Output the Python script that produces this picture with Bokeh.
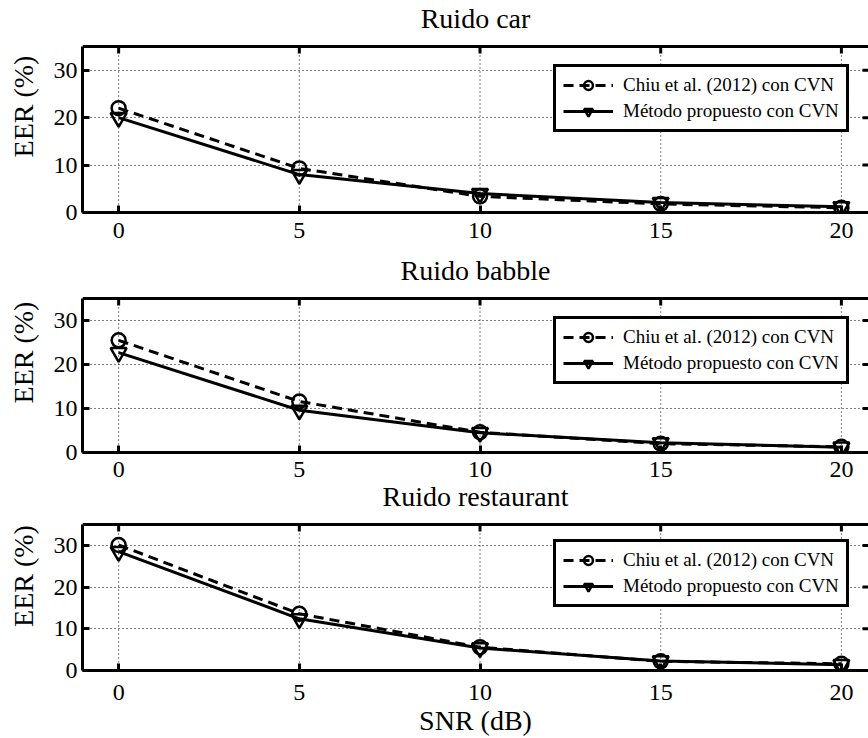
import math
from bokeh.plotting import figure
from bokeh.models import Range1d, LinearAxis, Legend, LegendItem, FixedTicker, Span, Label
from bokeh.layouts import column
from bokeh.embed import file_html
from bokeh.resources import INLINE

snr = [0, 5, 10, 15, 20]
x_ticks = [0, 5, 10, 15, 20]
y_ticks = [0, 10, 20, 30]

titles = ["Ruido car", "Ruido babble", "Ruido restaurant"]
chiu_car = [22.0, 9.3, 3.4, 1.8, 1.0]
prop_car = [20.0, 8.0, 4.0, 2.1, 1.2]
chiu_babble = [25.5, 11.6, 4.6, 2.0, 1.3]
prop_babble = [22.7, 9.6, 4.5, 2.2, 1.2]
chiu_rest = [30.1, 13.6, 5.6, 2.2, 1.6]
prop_rest = [28.5, 12.4, 5.4, 2.3, 1.4]

label_chiu = "Chiu et al. (2012) con CVN"
label_prop = "Método propuesto con CVN"
y_label = "EER (%)"
x_label = "SNR (dB)"

FONT = "Liberation Serif"
X0, X1 = -1, 20.75
Y0, Y1 = 0, 35

# (space above box inside frame, box height, border bottom, tick standoff)
fig_specs = [(46, 166, 40, 10), (46, 154, 29, 9), (44, 149, 64, 14)]
series = [(chiu_car, prop_car), (chiu_babble, prop_babble), (chiu_rest, prop_rest)]

LEG_W, LEG_H = 285, 59


def style_axis(ax, standoff):
    ax.axis_line_width = 3
    ax.axis_line_color = "black"
    ax.major_tick_in = 7
    ax.major_tick_out = 0
    ax.major_tick_line_width = 3
    ax.major_tick_line_color = "black"
    ax.minor_tick_line_color = None
    ax.major_label_text_font = FONT
    ax.major_label_text_color = "black"
    ax.major_label_text_font_size = "24px"
    ax.major_label_standoff = standoff
    ax.axis_label_text_font = FONT
    ax.axis_label_text_font_size = "28px"
    ax.axis_label_text_font_style = "normal"
    ax.axis_label_text_color = "black"


items = []
for i, (title, (chiu, prop), (ext, bh, bb, so)) in enumerate(
        zip(titles, series, fig_specs)):
    fh = ext + bh
    y_top = Y1 * fh / bh
    p = figure(width=868, height=fh + bb, output_backend="svg", toolbar_location=None,
               x_range=Range1d(X0, X1), y_range=Range1d(Y0, y_top),
               min_border_left=82, min_border_right=0,
               min_border_top=0, min_border_bottom=bb,
               x_axis_location=None, y_axis_location=None, title=None)
    p.outline_line_color = None
    p.background_fill_color = "white"
    p.border_fill_color = "white"

    xb = LinearAxis(ticker=FixedTicker(ticks=x_ticks))
    style_axis(xb, so)
    if i == 2:
        xb.axis_label = x_label
        xb.axis_label_standoff = 2
    p.add_layout(xb, "below")

    yl = LinearAxis(ticker=FixedTicker(ticks=y_ticks), bounds=(Y0, Y1))
    style_axis(yl, 5)
    yl.axis_label = y_label
    yl.axis_label_standoff = 12
    p.add_layout(yl, "left")

    p.xgrid.visible = False
    p.ygrid.ticker = FixedTicker(ticks=y_ticks)
    p.ygrid.grid_line_color = "black"
    p.ygrid.grid_line_width = 1
    p.ygrid.grid_line_dash = "1 3"
    p.segment(x0=x_ticks, y0=[Y0] * len(x_ticks), x1=x_ticks, y1=[Y1] * len(x_ticks),
              line_color="black", line_width=1, line_dash="1 3")

    # top border line and inward ticks on top / right edges
    p.add_layout(Span(location=Y1, dimension="width", line_color="black", line_width=3))
    p.ray(x=x_ticks, y=[Y1] * len(x_ticks), length=7, length_units="screen",
          angle=-math.pi / 2, line_color="black", line_width=3)
    p.ray(x=[X1] * len(y_ticks), y=y_ticks, length=6, length_units="screen",
          angle=math.pi, line_color="black", line_width=3)

    l1 = p.line(snr, chiu, line_color="black", line_width=3, line_dash="10 6")
    m1 = p.scatter(snr, chiu, marker="circle", size=14, line_color="black",
                   line_width=2.5, fill_color=None)
    l2 = p.line(snr, prop, line_color="black", line_width=3)
    m2 = p.scatter(snr, prop, marker="inverted_triangle", size=16, line_color="black",
                   line_width=2.5, fill_color=None)

    p.add_layout(Label(x=(X0 + X1) / 2, y=Y1, y_offset=28, text=title,
                       text_align="center", text_baseline="middle",
                       text_font=FONT, text_font_size="28px", text_color="black"))

    legend = Legend(items=[LegendItem(label=label_chiu, renderers=[l1, m1]),
                           LegendItem(label=label_prop, renderers=[l2, m2])],
                    location=(770 - LEG_W - 14, bh - 15 - LEG_H - 12))
    legend.margin = 0
    legend.padding = 7
    legend.spacing = 4
    legend.glyph_width = 50
    legend.glyph_height = 22
    legend.label_height = 22
    legend.label_standoff = 10
    legend.label_text_font = FONT
    legend.label_text_font_size = "19px"
    legend.label_text_color = "black"
    legend.border_line_color = "black"
    legend.border_line_alpha = 1.0
    legend.border_line_width = 3
    legend.background_fill_color = "white"
    legend.background_fill_alpha = 1.0
    p.add_layout(legend, "center")

    items.append(p)

layout = column(*items, spacing=0)
open("out.html", "w").write(file_html(layout, INLINE))
